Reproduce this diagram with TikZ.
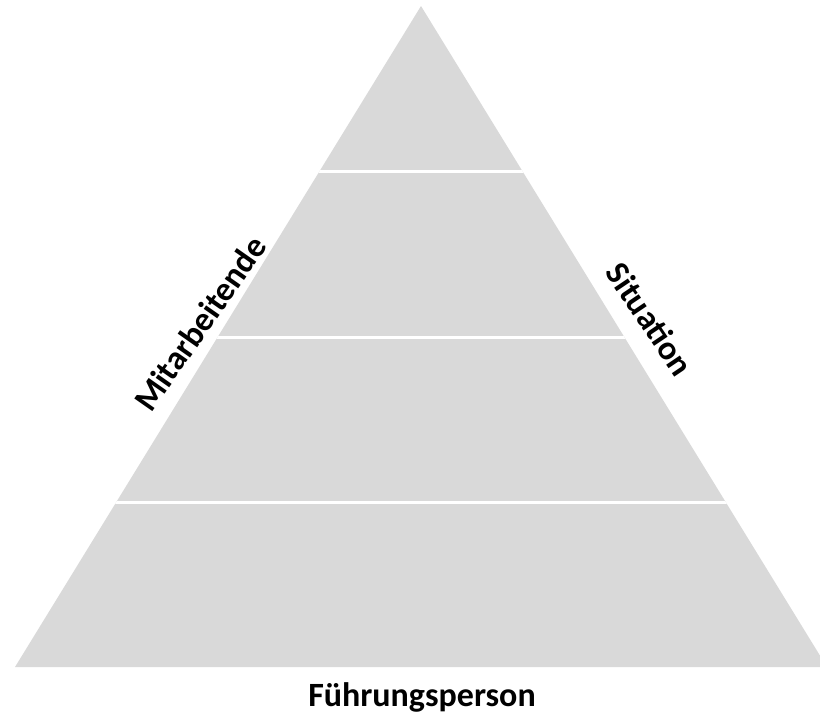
\documentclass[tikz,border=0pt]{standalone}
\usepackage{fontspec}
\setmainfont{Carlito}
\begin{document}
\begin{tikzpicture}[x=1pt,y=-1pt,
  band/.style={fill=pyrgray,draw=none},
  sep/.style={draw=white,line width=3pt},
  lbl/.style={font=\bfseries\fontsize{34}{40}\selectfont,inner sep=0pt,text=black}]
\definecolor{pyrgray}{HTML}{D9D9D9}
\useasboundingbox (0,0) rectangle (820,713);
\coordinate (apex) at (421,6);
\coordinate (bl) at (15,667);
\coordinate (br) at (827,667);
\fill[band] (apex) -- (bl) -- (br) -- cycle;
\begin{scope}
  \clip (apex) -- (bl) -- (br) -- cycle;
  \draw[sep] (0,171) -- (840,171);
  \draw[sep] (0,337) -- (840,337);
  \draw[sep] (0,502) -- (840,502);
\end{scope}
\node[lbl,rotate=55] (mit) at (200,323) {Mitarbeitende};
\node[lbl,rotate=-56] (sit) at (650,319) {Situation};
\node[lbl] (fuehr) at (422,697) {Führungsperson};
\end{tikzpicture}
\end{document}
